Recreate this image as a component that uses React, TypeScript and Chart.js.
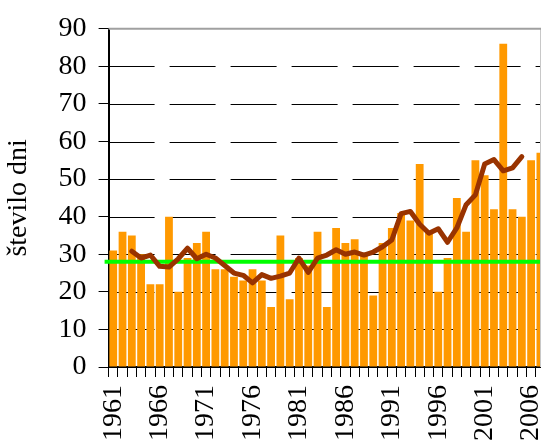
import { useEffect, useRef } from 'react';
import { Chart, registerables } from 'chart.js';

Chart.register(...registerables);

const years = [
  '1961', '1962', '1963', '1964', '1965', '1966', '1967', '1968', '1969', '1970',
  '1971', '1972', '1973', '1974', '1975', '1976', '1977', '1978', '1979', '1980',
  '1981', '1982', '1983', '1984', '1985', '1986', '1987', '1988', '1989', '1990',
  '1991', '1992', '1993', '1994', '1995', '1996', '1997', '1998', '1999', '2000',
  '2001', '2002', '2003', '2004', '2005', '2006', '2007',
];

const days = [
  31, 36, 35, 30, 22, 22, 40, 20, 29, 33,
  36, 26, 26, 24, 23, 26, 23, 16, 35, 18,
  29, 27, 36, 16, 37, 33, 34, 30, 19, 33,
  37, 41, 39, 54, 36, 20, 29, 45, 36, 55,
  51, 42, 86, 42, 40, 55, 57,
];

const movingAvg: (number | null)[] = [
  null, null, 30.8, 29.0, 29.8, 26.8, 26.6, 28.8, 31.6, 28.8,
  30.0, 29.0, 27.0, 25.0, 24.4, 22.4, 24.6, 23.6, 24.2, 25.0,
  29.0, 25.2, 29.0, 29.8, 31.2, 30.0, 30.6, 29.8, 30.6, 32.0,
  33.8, 40.8, 41.4, 38.0, 35.6, 36.8, 33.2, 37.0, 43.2, 45.8,
  54.0, 55.2, 52.2, 53.0, 56.0, null, null,
];

const referenceLevel = 28;
const yMin = 0;
const yMax = 90;
const yStep = 10;
const labelEvery = 5;
const yTitle = 'število dni';

const FONT = '"Liberation Serif", "Times New Roman", serif';

function drawGrid(chart: any) {
  const { ctx, chartArea, scales } = chart;
  const ys = scales.y;
  ctx.save();
  ctx.strokeStyle = '#000000';
  ctx.lineWidth = 1;
  ctx.setLineDash([46, 15]);
  for (let v = yMin + yStep; v < yMax; v += yStep) {
    const y = Math.round(ys.getPixelForValue(v)) + 0.5;
    ctx.beginPath();
    ctx.moveTo(chartArea.left, y);
    ctx.lineTo(chartArea.right, y);
    ctx.stroke();
  }
  ctx.restore();
}

function drawFrame(chart: any) {
  const { ctx, chartArea, scales } = chart;
  const top = scales.y.getPixelForValue(yMax);
  const bottom = scales.y.getPixelForValue(yMin);
  ctx.save();
  ctx.setLineDash([]);
  ctx.strokeStyle = '#c8c8c8';
  ctx.lineWidth = 1;
  ctx.beginPath();
  ctx.moveTo(540.5, top);
  ctx.lineTo(540.5, bottom);
  ctx.stroke();
  ctx.strokeStyle = '#a0a0a0';
  ctx.lineWidth = 2;
  ctx.beginPath();
  ctx.moveTo(chartArea.left, top);
  ctx.lineTo(chartArea.right, top);
  ctx.stroke();
  ctx.restore();
}

const overlayPlugin = {
  id: 'overlay',
  beforeDatasetDraw(chart: any, args: any) {
    if (args.index === 1) drawGrid(chart);
  },
  afterDatasetDraw(chart: any, args: any) {
    const { ctx, chartArea, scales } = chart;
    if (args.index === 1) {
      const y = scales.y.getPixelForValue(referenceLevel);
      ctx.save();
      ctx.setLineDash([]);
      ctx.strokeStyle = '#00ff00';
      ctx.lineWidth = 4;
      ctx.beginPath();
      ctx.moveTo(chartArea.left - 4, y);
      ctx.lineTo(chartArea.right, y);
      ctx.stroke();
      ctx.restore();
    } else if (args.index === 0) {
      drawFrame(chart);
    }
  },
};

export default function App() {
  const canvasRef = useRef<HTMLCanvasElement | null>(null);

  useEffect(() => {
    document.body.style.margin = '0';
    const canvas = canvasRef.current;
    if (!canvas) return;
    const chart = new Chart(canvas, {
      type: 'bar',
      data: {
        labels: years,
        datasets: [
          {
            type: 'line',
            data: movingAvg,
            borderColor: '#993300',
            borderWidth: 5,
            pointRadius: 0,
            tension: 0,
            fill: false,
            borderJoinStyle: 'round',
            borderCapStyle: 'round',
            spanGaps: false,
          } as any,
          {
            type: 'bar',
            data: days,
            backgroundColor: '#ff9900',
            borderWidth: 0,
            categoryPercentage: 1,
            barPercentage: 0.84,
          },
        ],
      },
      options: {
        responsive: false,
        animation: false,
        devicePixelRatio: 1,
        layout: { padding: { top: 10, right: 0, bottom: 0, left: 0 } },
        plugins: {
          legend: { display: false },
          tooltip: { enabled: false },
        },
        scales: {
          x: {
            offset: true,
            grid: {
              offset: true,
              drawOnChartArea: false,
              drawTicks: true,
              tickLength: 10,
              tickColor: '#000000',
              tickWidth: 1,
            },
            border: { display: true, color: '#000000', width: 2 },
            ticks: {
              autoSkip: false,
              minRotation: 90,
              maxRotation: 90,
              padding: 8,
              color: '#000000',
              font: { family: FONT, size: 28 },
              callback: (_v: any, index: number) => (index % labelEvery === 0 ? years[index] : ''),
            },
          },
          y: {
            min: yMin,
            max: yMax,
            grid: {
              drawOnChartArea: false,
              drawTicks: true,
              tickColor: '#000000',
              tickLength: 10,
              tickWidth: 1,
            },
            border: { display: true, color: '#000000', width: 2 },
            ticks: {
              stepSize: yStep,
              padding: 12,
              color: '#000000',
              font: { family: FONT, size: 28 },
            },
            title: {
              display: true,
              text: yTitle,
              color: '#000000',
              font: { family: FONT, size: 28 },
              padding: { top: 2, bottom: 11 },
            },
          },
        },
      },
      plugins: [overlayPlugin],
    });
    return () => chart.destroy();
  }, []);

  return (
    <div style={{ width: 541, height: 444, overflow: 'hidden' }}>
      <canvas ref={canvasRef} width={582} height={449} style={{ display: 'block' }} />
    </div>
  );
}
